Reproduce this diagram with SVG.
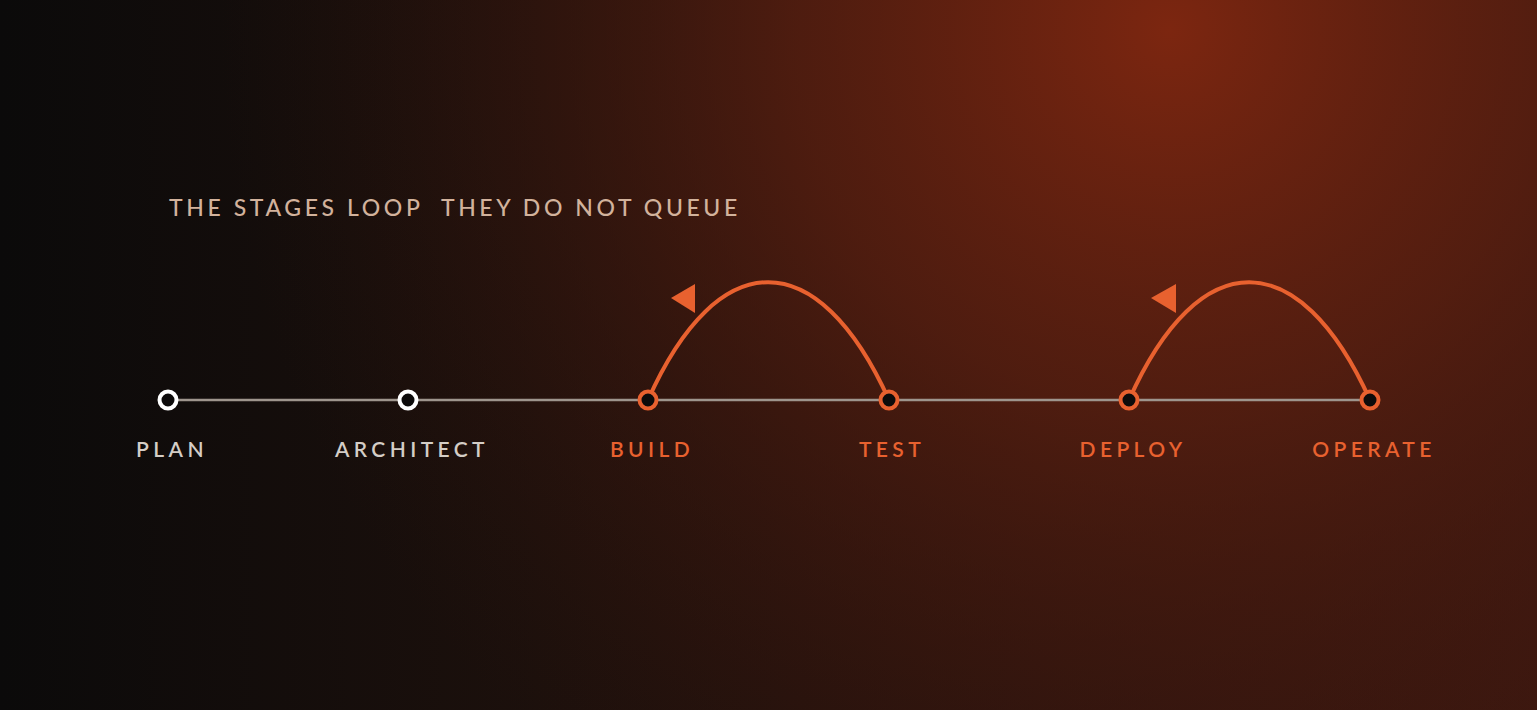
<svg xmlns="http://www.w3.org/2000/svg" width="1537" height="710" viewBox="0 0 1537 710">
<style>
.title{font-family:"Lato","Noto Sans",sans-serif;font-size:23px;font-weight:500;letter-spacing:3.6px;fill:#d2b29c;white-space:pre}
.lbl{font-family:"Lato","Noto Sans",sans-serif;font-size:21px;font-weight:600;letter-spacing:4.4px;text-anchor:middle}
.g{fill:#d4cdc6}
.o{fill:#e8612f}
.nw{fill:#0d0b0b;stroke:#ffffff;stroke-width:4}
.no{fill:#0d0b0b;stroke:#e8612f;stroke-width:4}
.loop{fill:none;stroke:#e8612f;stroke-width:4;stroke-linecap:round}
.head{fill:#e8612f}
</style>
<defs>
<linearGradient id="base" x1="0" y1="0" x2="1" y2="0">
<stop offset="0" stop-color="#0b0a0a"/>
<stop offset="0.35" stop-color="#1c100c"/>
<stop offset="1" stop-color="#3e1810"/>
</linearGradient>
<radialGradient id="glow" gradientUnits="userSpaceOnUse" cx="1170" cy="30" r="950">
<stop offset="0" stop-color="#7c2610" stop-opacity="1"/>
<stop offset="0.4" stop-color="#5a1f10" stop-opacity="0.75"/>
<stop offset="1" stop-color="#2a120c" stop-opacity="0"/>
</radialGradient>
</defs>
<rect width="1537" height="710" fill="url(#base)"/>
<rect width="1537" height="710" fill="url(#glow)"/>
<text class="title" x="169" y="216">THE STAGES LOOP  THEY DO NOT QUEUE</text>
<g id="connectors">
<line x1="168" y1="400" x2="1370" y2="400" stroke="#9e958d" stroke-width="2.5"/>
<path class="loop" d="M648,400 C718,243 818,243 889,400"/>
<path class="loop" d="M1129,400 C1199,243 1299,243 1370,400"/>
<polygon class="head" points="671,298 695,284 695,313"/>
<polygon class="head" points="1151,298 1176,284 1176,313"/>
</g>
<g id="plan"><circle class="nw" cx="168" cy="400" r="8.5"/><text class="lbl g" x="172" y="457">PLAN</text></g>
<g id="architect"><circle class="nw" cx="408" cy="400" r="8.5"/><text class="lbl g" x="412" y="457">ARCHITECT</text></g>
<g id="build"><circle class="no" cx="648" cy="400" r="8.5"/><text class="lbl o" x="652" y="457">BUILD</text></g>
<g id="test"><circle class="no" cx="889" cy="400" r="8.5"/><text class="lbl o" x="892" y="457">TEST</text></g>
<g id="deploy"><circle class="no" cx="1129" cy="400" r="8.5"/><text class="lbl o" x="1133" y="457">DEPLOY</text></g>
<g id="operate"><circle class="no" cx="1370" cy="400" r="8.5"/><text class="lbl o" x="1374" y="457">OPERATE</text></g>
</svg>
